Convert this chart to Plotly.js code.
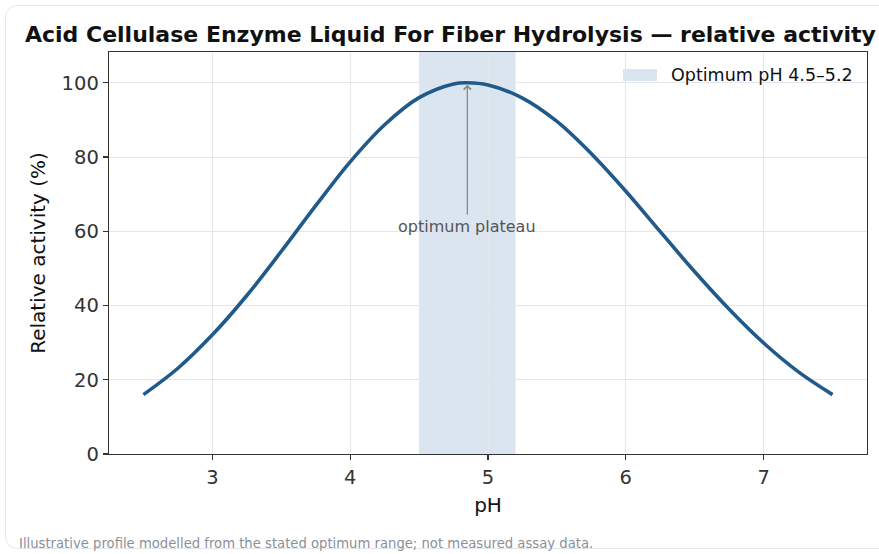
<!DOCTYPE html>
<html>
<head>
<meta charset="utf-8">
<script src="https://cdn.plot.ly/plotly-3.0.1.min.js"></script>
<style>
  html, body { margin: 0; padding: 0; background: #ffffff; overflow: hidden; }
  #frame { position: absolute; left: 5px; top: 5px; width: 920px; height: 544px;
           border: 1.5px solid #e3e7ec; border-radius: 12px; box-sizing: border-box; }
  #chart { position: absolute; left: 0; top: 0; width: 879px; height: 554px; }
</style>
</head>
<body>
<div id="frame"></div>
<div id="chart"></div>
<script>
// pH values and relative activity (%)
const phValues = [2.5, 2.75, 3.0, 3.25, 3.5, 3.75, 4.0, 4.25, 4.5, 4.75, 4.85, 5.0, 5.25, 5.5, 5.75, 6.0, 6.25, 6.5, 6.75, 7.0, 7.25, 7.5];
const activity = [16.0, 23.1, 32.1, 42.7, 54.6, 66.9, 78.7, 88.7, 96.0, 99.7, 100.0, 99.4, 95.9, 89.6, 80.9, 70.8, 59.9, 49.1, 39.0, 29.9, 22.2, 16.0];
const optimumRange = [4.5, 5.2];
const peak = [4.85, 100];
const xTicks = [3, 4, 5, 6, 7];
const yTicks = [0, 20, 40, 60, 80, 100];
const titleText = "Acid Cellulase Enzyme Liquid For Fiber Hydrolysis — relative activity";
const legendText = "Optimum pH 4.5–5.2";
const noteText = "Illustrative profile modelled from the stated optimum range; not measured assay data.";

const FONT = "DejaVu Sans, Verdana, sans-serif";

const traces = [{
  x: phValues, y: activity, type: "scatter", mode: "lines",
  line: { color: "#1f5a8a", width: 3.6, shape: "spline", smoothing: 1 },
  hoverinfo: "x+y", showlegend: false
}];

const layout = {
  width: 879, height: 554,
  paper_bgcolor: "rgba(0,0,0,0)", plot_bgcolor: "#ffffff",
  margin: { l: 109, r: 12, t: 52, b: 100 },
  showlegend: false,
  font: { family: FONT, color: "#333333" },
  title: { text: "<b>" + titleText + "</b>", x: 25/879, xanchor: "left", xref: "container",
           y: 1 - 34/554, yanchor: "middle", yref: "container",
           font: { family: FONT, size: 22, color: "#111111" } },
  xaxis: {
    range: [2.25, 7.75], tickvals: xTicks, ticktext: xTicks.map(String),
    showgrid: true, gridcolor: "#e4e6ea", gridwidth: 1, zeroline: false,
    showline: true, mirror: true, linecolor: "#333333", linewidth: 1.3,
    ticks: "outside", ticklen: 5, tickcolor: "#333333", tickwidth: 1.2,
    tickfont: { family: FONT, size: 19.5, color: "#333333" },
    title: { text: "pH", font: { family: FONT, size: 20, color: "#111111" }, standoff: 10 }
  },
  yaxis: {
    range: [0, 108.3], tickvals: yTicks, ticktext: yTicks.map(String),
    showgrid: true, gridcolor: "#e4e6ea", gridwidth: 1, zeroline: false,
    showline: true, mirror: true, linecolor: "#333333", linewidth: 1.3,
    ticks: "outside", ticklen: 5, tickcolor: "#333333", tickwidth: 1.2,
    tickfont: { family: FONT, size: 19.5, color: "#333333" },
    title: { text: "Relative activity (%)", font: { family: FONT, size: 20, color: "#111111" }, standoff: 10 }
  },
  shapes: [
    { type: "rect", xref: "x", yref: "paper", x0: optimumRange[0], x1: optimumRange[1], y0: 0, y1: 1,
      fillcolor: "#dbe5ef", line: { width: 0 }, layer: "below" },
    // legend swatch
    { type: "rect", xref: "paper", yref: "paper",
      x0: (623-109)/758, x1: (657-109)/758, y0: (454-81)/402, y1: (454-69)/402,
      fillcolor: "#dbe5ef", line: { width: 0 } }
  ],
  annotations: [
    { xref: "paper", yref: "paper", x: (669-109)/758, y: (454-75)/402, xanchor: "left", yanchor: "middle",
      text: legendText, showarrow: false, font: { family: FONT, size: 17.5, color: "#111111" } },
    { x: peak[0], y: peak[1], xref: "x", yref: "y", ax: 0, ay: 132, axref: "pixel", ayref: "pixel",
      text: "optimum plateau", showarrow: true, arrowhead: 4, arrowsize: 1.1, arrowwidth: 1.3,
      arrowcolor: "#888888", standoff: 2, yanchor: "top",
      font: { family: FONT, size: 16, color: "#555555" } },
    { xref: "paper", yref: "paper", x: (17-109)/758, y: -(543-454)/402, xanchor: "left", yanchor: "middle",
      text: noteText, showarrow: false, font: { family: FONT, size: 13.2, color: "#8a9097" } }
  ]
};

Plotly.newPlot("chart", traces, layout, { displayModeBar: false, staticPlot: true });
</script>
</body>
</html>
